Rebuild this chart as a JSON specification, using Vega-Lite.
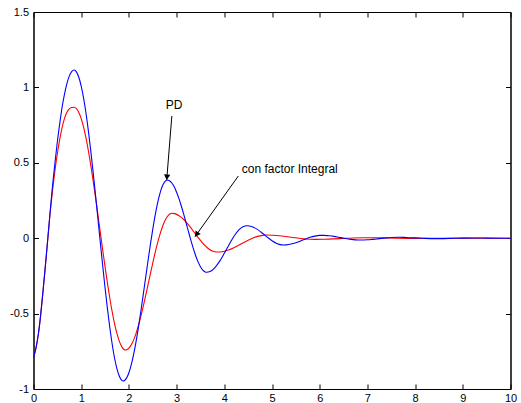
{
  "$schema": "https://vega.github.io/schema/vega-lite/v6.json",
  "width": 477,
  "height": 377,
  "autosize": "none",
  "padding": {"left": 33.5, "top": 12, "right": 10.5, "bottom": 14},
  "background": "white",
  "config": {
    "view": {"stroke": "black", "strokeWidth": 1},
    "axis": {
      "grid": false,
      "title": null,
      "domainColor": "black",
      "tickColor": "black",
      "labelColor": "black",
      "labelFont": "Liberation Sans",
      "labelFontSize": 11,
      "tickSize": -5,
      "labelFlush": false,
      "labelOverlap": false
    }
  },
  "datasets": {
    "pd": [
      {"t": 0, "v": -0.79}, {"t": 0.05, "v": -0.73}, {"t": 0.1, "v": -0.64}, {"t": 0.15, "v": -0.51},
      {"t": 0.2, "v": -0.35}, {"t": 0.25, "v": -0.18}, {"t": 0.3, "v": 0.0}, {"t": 0.35, "v": 0.18},
      {"t": 0.4, "v": 0.35}, {"t": 0.45, "v": 0.5}, {"t": 0.5, "v": 0.64}, {"t": 0.55, "v": 0.76},
      {"t": 0.6, "v": 0.87}, {"t": 0.65, "v": 0.955}, {"t": 0.7, "v": 1.025}, {"t": 0.75, "v": 1.075},
      {"t": 0.8, "v": 1.105}, {"t": 0.85, "v": 1.115}, {"t": 0.9, "v": 1.103}, {"t": 0.95, "v": 1.067},
      {"t": 1.0, "v": 1.009}, {"t": 1.05, "v": 0.929}, {"t": 1.1, "v": 0.83}, {"t": 1.15, "v": 0.713},
      {"t": 1.2, "v": 0.581}, {"t": 1.25, "v": 0.438}, {"t": 1.3, "v": 0.287}, {"t": 1.35, "v": 0.131},
      {"t": 1.4, "v": -0.026}, {"t": 1.45, "v": -0.18}, {"t": 1.5, "v": -0.329}, {"t": 1.55, "v": -0.467},
      {"t": 1.6, "v": -0.594}, {"t": 1.65, "v": -0.703}, {"t": 1.7, "v": -0.796}, {"t": 1.75, "v": -0.867},
      {"t": 1.8, "v": -0.916}, {"t": 1.85, "v": -0.943}, {"t": 1.88, "v": -0.947}, {"t": 1.9, "v": -0.945},
      {"t": 1.95, "v": -0.928}, {"t": 2.0, "v": -0.892}, {"t": 2.05, "v": -0.839}, {"t": 2.1, "v": -0.769},
      {"t": 2.15, "v": -0.686}, {"t": 2.2, "v": -0.591}, {"t": 2.25, "v": -0.486}, {"t": 2.3, "v": -0.376},
      {"t": 2.35, "v": -0.263}, {"t": 2.4, "v": -0.151}, {"t": 2.45, "v": -0.043}, {"t": 2.5, "v": 0.059},
      {"t": 2.55, "v": 0.151}, {"t": 2.6, "v": 0.231}, {"t": 2.65, "v": 0.296}, {"t": 2.7, "v": 0.344},
      {"t": 2.75, "v": 0.374}, {"t": 2.805, "v": 0.386}, {"t": 2.85, "v": 0.381}, {"t": 2.9, "v": 0.366},
      {"t": 2.95, "v": 0.341}, {"t": 3.0, "v": 0.305}, {"t": 3.05, "v": 0.262}, {"t": 3.1, "v": 0.212},
      {"t": 3.15, "v": 0.158}, {"t": 3.2, "v": 0.1}, {"t": 3.25, "v": 0.042}, {"t": 3.3, "v": -0.015},
      {"t": 3.35, "v": -0.068}, {"t": 3.4, "v": -0.116}, {"t": 3.45, "v": -0.157}, {"t": 3.5, "v": -0.189},
      {"t": 3.55, "v": -0.212}, {"t": 3.6, "v": -0.224}, {"t": 3.63, "v": -0.226}, {"t": 3.7, "v": -0.221},
      {"t": 3.8, "v": -0.196}, {"t": 3.9, "v": -0.154}, {"t": 4.0, "v": -0.1}, {"t": 4.1, "v": -0.043},
      {"t": 4.2, "v": 0.011}, {"t": 4.3, "v": 0.053}, {"t": 4.4, "v": 0.078}, {"t": 4.47, "v": 0.083},
      {"t": 4.5, "v": 0.0825}, {"t": 4.6, "v": 0.074}, {"t": 4.7, "v": 0.057}, {"t": 4.8, "v": 0.033},
      {"t": 4.9, "v": 0.007}, {"t": 5.0, "v": -0.017}, {"t": 5.1, "v": -0.035}, {"t": 5.2, "v": -0.044},
      {"t": 5.24, "v": -0.045}, {"t": 5.3, "v": -0.044}, {"t": 5.4, "v": -0.039}, {"t": 5.5, "v": -0.03},
      {"t": 5.6, "v": -0.018}, {"t": 5.7, "v": -0.0055}, {"t": 5.8, "v": 0.006}, {"t": 5.9, "v": 0.014},
      {"t": 6.0, "v": 0.0186}, {"t": 6.04, "v": 0.019}, {"t": 6.1, "v": 0.0186}, {"t": 6.2, "v": 0.016},
      {"t": 6.3, "v": 0.012}, {"t": 6.4, "v": 0.006}, {"t": 6.5, "v": 0.0}, {"t": 6.6, "v": -0.005},
      {"t": 6.7, "v": -0.0095}, {"t": 6.8, "v": -0.0117}, {"t": 6.85, "v": -0.012}, {"t": 7.0, "v": -0.0105},
      {"t": 7.1, "v": -0.008}, {"t": 7.2, "v": -0.005}, {"t": 7.3, "v": -0.001}, {"t": 7.4, "v": 0.002},
      {"t": 7.5, "v": 0.0045}, {"t": 7.65, "v": 0.006}, {"t": 7.8, "v": 0.005}, {"t": 8.0, "v": 0.0024},
      {"t": 8.2, "v": -0.001}, {"t": 8.45, "v": -0.003}, {"t": 8.6, "v": -0.0025}, {"t": 8.85, "v": -0.0008},
      {"t": 9.0, "v": 0.0005}, {"t": 9.25, "v": 0.0015}, {"t": 9.5, "v": 0.0008}, {"t": 10.0, "v": 0.0}
    ],
    "pi": [
      {"t": 0, "v": -0.79}, {"t": 0.05, "v": -0.73}, {"t": 0.1, "v": -0.64}, {"t": 0.15, "v": -0.51},
      {"t": 0.2, "v": -0.35}, {"t": 0.25, "v": -0.18}, {"t": 0.3, "v": -0.005}, {"t": 0.35, "v": 0.17},
      {"t": 0.4, "v": 0.32}, {"t": 0.45, "v": 0.45}, {"t": 0.5, "v": 0.56}, {"t": 0.55, "v": 0.655},
      {"t": 0.6, "v": 0.735}, {"t": 0.65, "v": 0.795}, {"t": 0.7, "v": 0.835}, {"t": 0.75, "v": 0.858},
      {"t": 0.8, "v": 0.867}, {"t": 0.85, "v": 0.868}, {"t": 0.9, "v": 0.859}, {"t": 0.95, "v": 0.834},
      {"t": 1.0, "v": 0.793}, {"t": 1.05, "v": 0.736}, {"t": 1.1, "v": 0.665}, {"t": 1.15, "v": 0.581},
      {"t": 1.2, "v": 0.486}, {"t": 1.25, "v": 0.382}, {"t": 1.3, "v": 0.272}, {"t": 1.35, "v": 0.157},
      {"t": 1.4, "v": 0.04}, {"t": 1.45, "v": -0.076}, {"t": 1.5, "v": -0.189}, {"t": 1.55, "v": -0.298},
      {"t": 1.6, "v": -0.398}, {"t": 1.65, "v": -0.489}, {"t": 1.7, "v": -0.568}, {"t": 1.75, "v": -0.633},
      {"t": 1.8, "v": -0.684}, {"t": 1.85, "v": -0.719}, {"t": 1.9, "v": -0.738}, {"t": 1.93, "v": -0.741},
      {"t": 1.95, "v": -0.74}, {"t": 2.0, "v": -0.729}, {"t": 2.05, "v": -0.707}, {"t": 2.1, "v": -0.674},
      {"t": 2.15, "v": -0.631}, {"t": 2.2, "v": -0.579}, {"t": 2.25, "v": -0.519}, {"t": 2.3, "v": -0.453},
      {"t": 2.35, "v": -0.383}, {"t": 2.4, "v": -0.31}, {"t": 2.45, "v": -0.237}, {"t": 2.5, "v": -0.165},
      {"t": 2.55, "v": -0.096}, {"t": 2.6, "v": -0.033}, {"t": 2.65, "v": 0.024}, {"t": 2.7, "v": 0.073},
      {"t": 2.75, "v": 0.113}, {"t": 2.8, "v": 0.141}, {"t": 2.85, "v": 0.159}, {"t": 2.9, "v": 0.165},
      {"t": 2.95, "v": 0.163}, {"t": 3.0, "v": 0.158}, {"t": 3.05, "v": 0.149}, {"t": 3.1, "v": 0.138},
      {"t": 3.15, "v": 0.124}, {"t": 3.2, "v": 0.107}, {"t": 3.25, "v": 0.088}, {"t": 3.3, "v": 0.068},
      {"t": 3.35, "v": 0.047}, {"t": 3.4, "v": 0.026}, {"t": 3.45, "v": 0.005}, {"t": 3.5, "v": -0.015},
      {"t": 3.55, "v": -0.034}, {"t": 3.6, "v": -0.05}, {"t": 3.65, "v": -0.065}, {"t": 3.7, "v": -0.077},
      {"t": 3.75, "v": -0.085}, {"t": 3.8, "v": -0.09}, {"t": 3.85, "v": -0.092}, {"t": 3.9, "v": -0.091},
      {"t": 4.0, "v": -0.086}, {"t": 4.1, "v": -0.077}, {"t": 4.2, "v": -0.063}, {"t": 4.3, "v": -0.047},
      {"t": 4.4, "v": -0.03}, {"t": 4.5, "v": -0.014}, {"t": 4.6, "v": 0.001}, {"t": 4.7, "v": 0.012},
      {"t": 4.8, "v": 0.019}, {"t": 4.89, "v": 0.021}, {"t": 5.0, "v": 0.02}, {"t": 5.2, "v": 0.015},
      {"t": 5.4, "v": 0.006}, {"t": 5.6, "v": -0.002}, {"t": 5.8, "v": -0.007}, {"t": 5.9, "v": -0.008},
      {"t": 6.1, "v": -0.007}, {"t": 6.3, "v": -0.0045}, {"t": 6.5, "v": -0.0013}, {"t": 6.7, "v": 0.0015},
      {"t": 6.95, "v": 0.003}, {"t": 7.3, "v": 0.002}, {"t": 7.6, "v": 0.0003}, {"t": 8.0, "v": -0.001},
      {"t": 9.0, "v": 0.0003}, {"t": 10.0, "v": 0.0}
    ],
    "arrows": [
      {"x": 2.9, "y": 0.81, "x2": 2.7925, "y2": 0.386},
      {"x": 4.294, "y": 0.4125, "x2": 3.386, "y2": 0.01}
    ],
    "heads": [
      {"x": 2.797, "y": 0.404, "angle": 184.5},
      {"x": 3.419, "y": 0.0245, "angle": 215.4}
    ],
    "notes": [
      {"x": 2.772, "y": 0.859, "label": "PD"},
      {"x": 4.365, "y": 0.43, "label": "con factor Integral"}
    ]
  },
  "layer": [
    {
      "data": {"name": "pi"},
      "mark": {"type": "line", "color": "#ff0000", "strokeWidth": 1.1, "interpolate": "monotone"},
      "encoding": {
        "x": {"field": "t", "type": "quantitative",
          "scale": {"domain": [0, 10], "nice": false, "zero": false},
          "axis": {"orient": "bottom", "values": [0, 1, 2, 3, 4, 5, 6, 7, 8, 9, 10], "labelExpr": "datum.value + ''", "labelPadding": 8}},
        "y": {"field": "v", "type": "quantitative",
          "scale": {"domain": [-1, 1.5], "nice": false, "zero": false},
          "axis": {"orient": "left", "values": [-1, -0.5, 0, 0.5, 1, 1.5], "labelExpr": "datum.value + ''", "labelPadding": 10}}
      }
    },
    {
      "data": {"name": "pd"},
      "mark": {"type": "line", "color": "#0000ff", "strokeWidth": 1.1, "interpolate": "monotone"},
      "encoding": {
        "x": {"field": "t", "type": "quantitative",
          "axis": {"orient": "top", "values": [0, 1, 2, 3, 4, 5, 6, 7, 8, 9, 10], "labels": false}},
        "y": {"field": "v", "type": "quantitative",
          "axis": {"orient": "right", "values": [-1, -0.5, 0, 0.5, 1, 1.5], "labels": false}}
      }
    },
    {
      "data": {"name": "arrows"},
      "mark": {"type": "rule", "color": "black", "strokeWidth": 1},
      "encoding": {
        "x": {"field": "x", "type": "quantitative", "axis": null},
        "y": {"field": "y", "type": "quantitative", "axis": null},
        "x2": {"field": "x2"},
        "y2": {"field": "y2"}
      }
    },
    {
      "data": {"name": "heads"},
      "mark": {"type": "point", "shape": "triangle-up", "filled": true, "color": "black", "size": 40, "opacity": 1, "strokeWidth": 0},
      "encoding": {
        "x": {"field": "x", "type": "quantitative", "axis": null},
        "y": {"field": "y", "type": "quantitative", "axis": null},
        "angle": {"field": "angle", "type": "quantitative", "scale": null}
      }
    },
    {
      "data": {"name": "notes"},
      "mark": {"type": "text", "align": "left", "baseline": "alphabetic", "font": "Liberation Sans", "fontSize": 12, "color": "black"},
      "encoding": {
        "x": {"field": "x", "type": "quantitative", "axis": null},
        "y": {"field": "y", "type": "quantitative", "axis": null},
        "text": {"field": "label", "type": "nominal"}
      }
    }
  ],
  "resolve": {"axis": {"x": "independent", "y": "independent"}}
}
